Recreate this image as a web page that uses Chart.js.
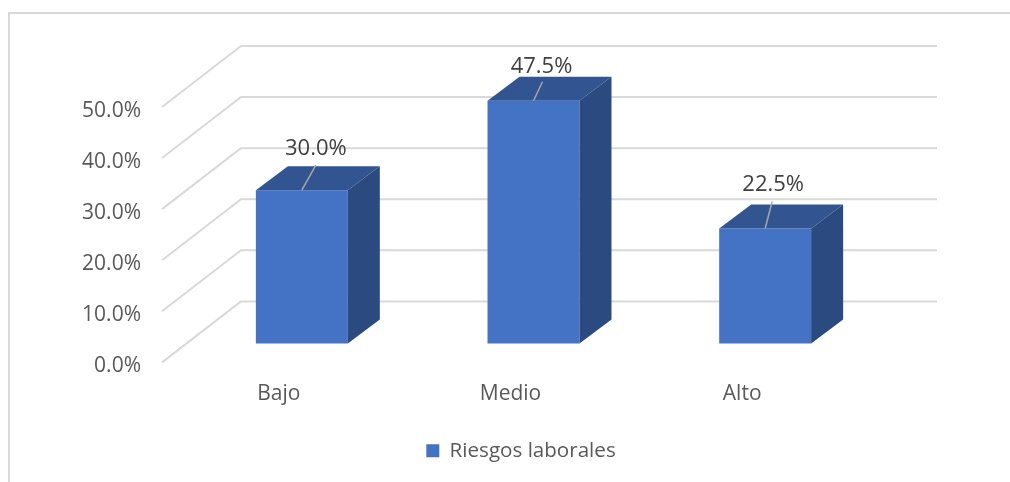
<!DOCTYPE html>
<html><head><meta charset="utf-8">
<script src="https://cdn.jsdelivr.net/npm/chart.js@4/dist/chart.umd.min.js"></script>
<style>
html,body{margin:0;padding:0;background:#fff;width:1010px;height:482px;overflow:hidden}
#f{position:absolute;left:8px;top:12px;right:-4px;bottom:-4px;border-left:2px solid #d9d9d9;border-top:2px solid #d9d9d9}
#c{position:absolute;left:0;top:0}
</style></head><body>
<div id="f"></div>
<canvas id="c" width="1010" height="482"></canvas>
<script>
const categories = ['Bajo','Medio','Alto'];
const seriesName = 'Riesgos laborales';
const values = [30.0,47.5,22.5];
const FONT = '"Open Sans"';
const GRID_UP = 4, FRONT_UP = 23, DEPTH_X = 32, DEPTH_Y = 24;
const labelShift = [[14,-41],[8,-34.5],[8,-44]];
const leaderEnd = [[14,-25],[9,-19],[7,-27]];

const threeD = {
  id:'threeD',
  afterLayout(chart){ chart.legend.left = 161; },
  beforeDatasetsDraw(chart){
    const {ctx,chartArea:a,scales:{y}} = chart;
    ctx.save();
    ctx.strokeStyle='#d9d9d9';ctx.lineWidth=2;ctx.lineJoin='round';
    y.ticks.forEach(t=>{
      const p=y.getPixelForValue(t.value)-GRID_UP;
      ctx.beginPath();ctx.moveTo(a.left-24,p);ctx.lineTo(a.left+55,p-61);ctx.lineTo(a.right+56,p-61);ctx.stroke();
    });
    ctx.restore();
    ctx.save();
    ctx.translate(0,-FRONT_UP);
  },
  afterDatasetsDraw(chart){
    const {ctx} = chart;
    const bars = chart.getDatasetMeta(0).data;
    bars.forEach(b=>{
      const l=b.x-b.width/2,r=b.x+b.width/2;
      ctx.fillStyle='#325592';
      ctx.beginPath();ctx.moveTo(l,b.y);ctx.lineTo(l+DEPTH_X,b.y-DEPTH_Y);ctx.lineTo(r+DEPTH_X,b.y-DEPTH_Y);ctx.lineTo(r,b.y);ctx.closePath();ctx.fill();
      ctx.fillStyle='#2a4a80';
      ctx.beginPath();ctx.moveTo(r,b.y);ctx.lineTo(r+DEPTH_X,b.y-DEPTH_Y);ctx.lineTo(r+DEPTH_X,b.base-DEPTH_Y);ctx.lineTo(r,b.base);ctx.closePath();ctx.fill();
    });
    bars.forEach((b,i)=>{
      ctx.strokeStyle='#a6a6a6';ctx.lineWidth=1.5;
      ctx.beginPath();ctx.moveTo(b.x,b.y);ctx.lineTo(b.x+leaderEnd[i][0],b.y+leaderEnd[i][1]);ctx.stroke();
      ctx.fillStyle='#404040';ctx.font='22px '+FONT;ctx.textAlign='center';ctx.textBaseline='middle';
      ctx.fillText(values[i].toFixed(1)+'%',b.x+labelShift[i][0],b.y+labelShift[i][1]);
    });
    ctx.restore();
  }
};

new Chart(document.getElementById('c'),{
  type:'bar',
  data:{labels:categories,datasets:[{label:seriesName,data:values,backgroundColor:'#4472C4',borderWidth:0,
    barPercentage:0.397,categoryPercentage:1,clip:false}]},
  plugins:[threeD],
  options:{
    responsive:false,animation:false,
    layout:{padding:{left:0,right:129,top:111,bottom:11}},
    plugins:{
      tooltip:{enabled:false},
      legend:{position:'bottom',labels:{boxWidth:13,boxHeight:13,padding:10,color:'#595959',font:{family:FONT,size:20.6}}}
    },
    scales:{
      x:{grid:{display:false},border:{display:false},
        ticks:{labelOffset:-23,padding:7,color:'#595959',font:{family:FONT,size:21}},
        afterFit(s){s.height=64;}},
      y:{min:0,max:50,grid:{display:false},border:{display:false},
        ticks:{stepSize:10,padding:37,color:'#595959',font:{family:FONT,size:21},callback:v=>v.toFixed(1)+'%'},
        afterFit(s){s.width=186;}}
    }
  }
});
</script>
</body></html>
